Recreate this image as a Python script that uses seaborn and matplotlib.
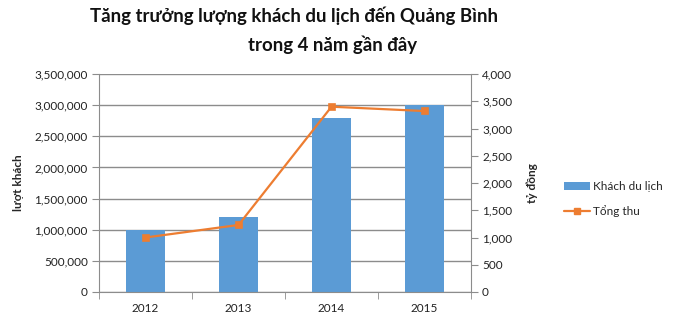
import matplotlib
matplotlib.use("Agg")
import matplotlib.pyplot as plt
import seaborn as sns
import numpy as np
from matplotlib.ticker import FuncFormatter, MultipleLocator
from matplotlib.patches import Patch
from matplotlib.lines import Line2D

years = ["2012", "2013", "2014", "2015"]
visitors = [1000000, 1200000, 2800000, 3000000]
revenue = [1000, 1230, 3400, 3320]

title1 = "Tăng trưởng lượng khách du lịch đến Quảng Bình"
title2 = "trong 4 năm gần đây"
left_label = "lượt khách"
right_label = "tỷ đồng"
bar_name = "Khách du lịch"
line_name = "Tổng thu"

BLUE = "#5B9BD5"
ORANGE = "#ED7D31"
GRID = "#8C8C8C"
FONT = ["Lato", "DejaVu Sans"]

sns.set_style("white")
plt.rcParams["font.family"] = FONT

fig = plt.figure(figsize=(6.74, 3.33), dpi=100)
ax = fig.add_axes([99/674, 1-292/333, (471-99)/674, (292-74)/333])

sns.barplot(x=years, y=visitors, ax=ax, color=BLUE, width=0.42, saturation=1,
            edgecolor="none")
ax.set_ylim(0, 3500000)
ax.yaxis.set_major_locator(MultipleLocator(500000))
ax.yaxis.set_major_formatter(FuncFormatter(lambda v, p: f"{int(v):,}"))
ax.grid(axis="y", color=GRID, linewidth=1)
ax.set_axisbelow(True)
ax.set_xlim(-0.5, 3.5)

ax2 = ax.twinx()
sns.pointplot(x=years, y=revenue, ax=ax2, color=ORANGE, markers="s",
              markersize=4, linewidth=1.6)
ax2.set_ylim(0, 4000)
ax2.yaxis.set_major_locator(MultipleLocator(500))
ax2.yaxis.set_major_formatter(FuncFormatter(lambda v, p: f"{int(v):,}"))
ax2.set_xlim(-0.5, 3.5)

for a in (ax, ax2):
    for s in a.spines.values():
        s.set_visible(False)
    a.set_xlabel("")
    a.set_ylabel("")
ax.spines["left"].set_visible(True)
ax.spines["left"].set_color(GRID)
ax.spines["bottom"].set_visible(True)
ax.spines["bottom"].set_color(GRID)
ax2.spines["right"].set_visible(True)
ax2.spines["right"].set_color(GRID)

ax.tick_params(axis="y", length=5, color=GRID, labelsize=8.5, labelcolor="#222222", pad=3, direction="out", left=True)
ax2.tick_params(axis="y", length=5, color=GRID, labelsize=8.5, labelcolor="#222222", pad=3, direction="out", right=True)
ax.set_xticks(range(len(years)))
ax.set_xticklabels(years)
ax.tick_params(axis="x", length=0, labelsize=8.5, labelcolor="#222222", pad=8)
ax.set_xticks(np.arange(-0.5, len(years)), minor=True)
ax.tick_params(axis="x", which="minor", length=5, color=GRID, bottom=True)

fig.text(18/674, 1-183/333, left_label, rotation=90, ha="center", va="center",
         fontsize=8.5, fontweight="bold")
fig.text(532/674, 1-183/333, right_label, rotation=90, ha="center", va="center",
         fontsize=8.5, fontweight="bold")

fig.text(294/674, 1-16/333, title1, ha="center", va="center", fontsize=13.4, fontweight="bold", color="#111111")
fig.text(333/674, 1-45/333, title2, ha="center", va="center", fontsize=13.4, fontweight="bold", color="#111111")

handles = [Patch(facecolor=BLUE, edgecolor="none"),
           Line2D([0], [0], color=ORANGE, marker="s", markersize=4, linewidth=1.6)]
fig.legend(handles, [bar_name, line_name], loc="center left",
           bbox_to_anchor=(553/674, 1-199/333), frameon=False, fontsize=8.5,
           handlelength=2.2, handleheight=0.6, labelspacing=1.1, handletextpad=0.3)

fig.savefig("out.png", dpi=100)
